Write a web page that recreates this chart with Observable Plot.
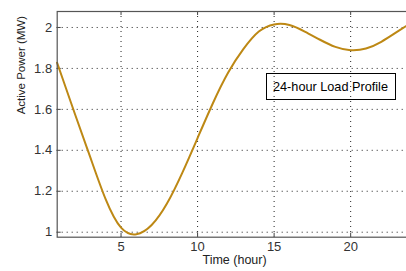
<!DOCTYPE html>
<html>
<head>
<meta charset="utf-8">
<script src="https://cdn.jsdelivr.net/npm/d3@7"></script>
<script src="https://cdn.jsdelivr.net/npm/@observablehq/plot@0.6"></script>
<style>
  html, body { margin: 0; padding: 0; background: #fff; overflow: hidden; }
  #wrap { position: relative; width: 406px; height: 271px; overflow: hidden; }
  #wrap svg { max-width: none !important; display: block; }
  #legend {
    position: absolute; left: 266px; top: 73px; width: 122px; height: 25px;
    border: 1px solid #000; background: transparent;
    font: 12.7px "Liberation Sans", Arial, sans-serif; color: #000;
    display: flex; align-items: center; padding-left: 6px; box-sizing: content-box;
    white-space: nowrap;
  }
</style>
</head>
<body>
<div id="wrap"></div>
<script>
const hours = [0.83, 1, 2, 3, 4, 5, 6, 7, 8, 9, 10, 11, 12, 13, 14, 15, 16, 17, 18, 19, 20, 21, 22, 23, 24];
const power = [1.825, 1.79, 1.575, 1.364, 1.16, 1.022, 0.99, 1.035, 1.14, 1.29, 1.46, 1.63, 1.78, 1.895, 1.98, 2.015, 2.012, 1.98, 1.94, 1.905, 1.889, 1.897, 1.93, 1.977, 2.025];
const xTicks = [5, 10, 15, 20];
const yTicks = [1, 1.2, 1.4, 1.6, 1.8, 2];
const yTickLabels = ["1", "1.2", "1.4", "1.6", "1.8", "2"];
const xLabel = "Time (hour)";
const yLabel = "Active Power (MW)";
const legendText = "24-hour Load Profile";

const data = hours.map((h, i) => ({hour: h, power: power[i]}));
const font = '"Liberation Sans", Arial, sans-serif';
const W = 412, H = 271, mL = 56.7, mR = 0.6, mT = 11, mB = 34.3;
const innerW = W - mL - mR, innerH = H - mT - mB;

const chart = Plot.plot({
  width: W, height: H,
  marginLeft: mL, marginRight: mR, marginTop: mT, marginBottom: mB,
  style: {fontFamily: font, fontSize: "13px", background: "transparent", overflow: "visible", maxWidth: "none"},
  x: {domain: [0.83, 24]},
  y: {domain: [0.9756, 2.078]},
  marks: [
    Plot.ruleX(xTicks, {x: d => d, stroke: "#222", strokeDasharray: "1,4", strokeWidth: 1}),
    Plot.ruleY(yTicks, {y: d => d, stroke: "#222", strokeDasharray: "1,4", strokeWidth: 1}),
    Plot.tickX(xTicks, {x: d => d, stroke: "#444", insetTop: innerH - 4}),
    Plot.tickX(xTicks, {x: d => d, stroke: "#444", insetBottom: innerH - 4}),
    Plot.tickY(yTicks, {y: d => d, stroke: "#444", insetRight: innerW - 4}),
    Plot.line(data, {x: "hour", y: "power", stroke: "#bd8814", strokeWidth: 2, curve: "natural"}),
    Plot.frame({stroke: "#555", strokeWidth: 1.2}),
    Plot.axisX(xTicks, {tickSize: 0, tickPadding: 5, fill: "#333", label: null, fontSize: 13}),
    Plot.axisY(yTicks, {tickSize: 0, tickPadding: 5, fill: "#333", label: null, fontSize: 13,
      tickFormat: (d) => yTickLabels[yTicks.indexOf(d)]}),
    Plot.text([xLabel], {frameAnchor: "bottom", text: d => d, dy: 27, fill: "#222", fontSize: 12.5}),
    Plot.text([yLabel], {frameAnchor: "left", text: d => d, rotate: -90, dx: -36, dy: -10, fill: "#222", fontSize: 11.5})
  ]
});
const wrap = document.getElementById("wrap");
wrap.appendChild(chart);
const lg = document.createElement("div");
lg.id = "legend";
lg.textContent = legendText;
wrap.appendChild(lg);
</script>
</body>
</html>
